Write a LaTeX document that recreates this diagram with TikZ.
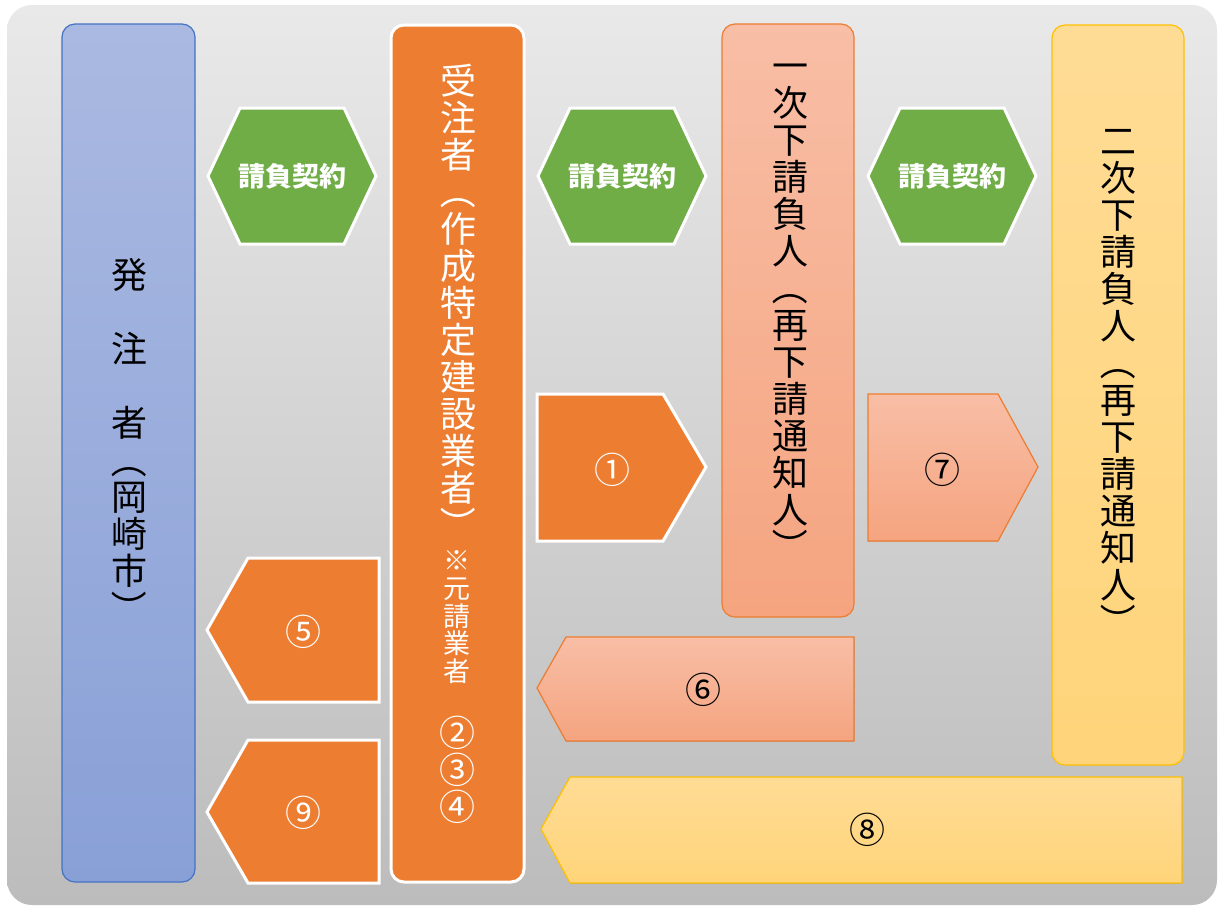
\documentclass[tikz,border=0pt]{standalone}
\usepackage{fontspec}
\usepackage{graphicx}
\newfontfamily\jp{Noto Sans CJK JP}
\definecolor{bgTop}{HTML}{E9E9E9}
\definecolor{bgBot}{HTML}{BCBCBC}
\definecolor{blueTop}{HTML}{AAB9E1}
\definecolor{blueBot}{HTML}{89A0D7}
\definecolor{blueLine}{HTML}{4472C4}
\definecolor{orng}{HTML}{ED7D31}
\definecolor{salTop}{HTML}{F8BEA6}
\definecolor{salBot}{HTML}{F5A47F}
\definecolor{yelTop}{HTML}{FFDC95}
\definecolor{yelBot}{HTML}{FFD47A}
\definecolor{yelLine}{HTML}{FFC000}
\definecolor{grn}{HTML}{70AD47}
% vertical parentheses and a strut for stacked text
\newcommand\vlp{\rotatebox[origin=c]{-90}{（}}
\newcommand\vrp{\rotatebox[origin=c]{-90}{）}}
\newcommand\vs{\rule[-0.12em]{0pt}{0.88em}}
\tikzset{
  box/.style={inner sep=0pt, rounded corners=6.5pt, line width=0.6pt},
  vtxt/.style={align=center, inner sep=0pt, font=\jp\fontsize{18}{18.5}\selectfont},
  vsmall/.style={align=center, inner sep=0pt, font=\jp\fontsize{13.5}{13.9}\selectfont},
  hexa/.style={fill=grn, draw=white, line width=1.5pt},
  hexlabel/.style={text=white, inner sep=0pt, font=\jp\bfseries\fontsize{13.5}{13.5}\selectfont},
  numlabel/.style={inner sep=0pt, font=\jp\fontsize{18}{18}\selectfont},
  arrowor/.style={fill=orng, draw=white, line width=1.5pt},
  arrowsal/.style={top color=salTop, bottom color=salBot, draw=orng, line width=0.6pt},
  arrowyel/.style={top color=yelTop, bottom color=yelBot, draw=yelLine, line width=0.6pt},
}
\begin{document}
\begin{tikzpicture}[x=0.5pt,y=-0.5pt]
	\useasboundingbox (0,0) rectangle (1218,906);
	\fill[white] (0,0) rectangle (1218,906);
	\shade[top color=bgTop, bottom color=bgBot, rounded corners=12.5pt] (7,5) rectangle (1217,905);
	% the four parties
	\node[box, draw=blueLine, top color=blueTop, bottom color=blueBot, minimum width=66.5pt, minimum height=429pt] (hatchu) at (128.5,453) {};
	\node[box, draw=white, line width=1.5pt, fill=orng, minimum width=66.5pt, minimum height=428.5pt] (juchu) at (457.5,453.5) {};
	\node[box, draw=orng, top color=salTop, bottom color=salBot, minimum width=66pt, minimum height=296.5pt] (ichiji) at (788,320.5) {};
	\node[box, draw=yelLine, top color=yelTop, bottom color=yelBot, minimum width=66pt, minimum height=370pt] (niji) at (1118,395) {};
	\node[vtxt] (hatchuT) at (129,442.5) {\vs{}発\\　\\注\\　\\者\\\vlp\\岡\\崎\\市\\\vrp\vs};
	\node[vtxt, text=white] (juchuT) at (458,303) {\vs{}受\\注\\者\\\vlp\\作\\成\\特\\定\\建\\設\\業\\者\\\vrp\vs};
	\node[vsmall, text=white] (motouke) at (457,617.5) {\vs{}※\\元\\請\\業\\者\vs};
	\node[vtxt, text=white] (juchuN) at (457,770) {\vs{}②\\③\\④\vs};
	\node[vtxt] (ichijiT) at (790,308) {\vs{}一\\次\\下\\請\\負\\人\\\vlp\\再\\下\\請\\通\\知\\人\\\vrp\vs};
	\node[vtxt] (nijiT) at (1118,383.5) {\vs{}二\\次\\下\\請\\負\\人\\\vlp\\再\\下\\請\\通\\知\\人\\\vrp\vs};
	% contracts
	\foreach \cx/\nm in {292/keiyakuA, 622/keiyakuB, 952/keiyakuC} {
		\draw[hexa] (\cx-84,176) -- (\cx-52,108) -- (\cx+52,108) -- (\cx+84,176) -- (\cx+52,244) -- (\cx-52,244) -- cycle;
		\node[hexlabel] (\nm) at (\cx,176) {請負契約};
	}
	% arrows to the right
	\filldraw[arrowor] (537,394) -- (663,394) -- (706,467) -- (663,541) -- (537,541) -- cycle;
	\node[numlabel, text=white] (n1) at (612,470) {①};
	\filldraw[arrowsal] (868,394) -- (998,394) -- (1038,467) -- (998,541) -- (868,541) -- cycle;
	\node[numlabel] (n7) at (942,470) {⑦};
	% arrows to the left
	\filldraw[arrowor] (207,630) -- (248,558) -- (379,558) -- (379,702) -- (248,702) -- cycle;
	\node[numlabel, text=white] (n5) at (303,632) {⑤};
	\filldraw[arrowor] (207,812) -- (248,740) -- (379,740) -- (379,883) -- (248,883) -- cycle;
	\node[numlabel, text=white] (n9) at (303,813) {⑨};
	\filldraw[arrowsal] (537,688) -- (566,637) -- (854,637) -- (854,741) -- (566,741) -- cycle;
	\node[numlabel] (n6) at (703,690) {⑥};
	\filldraw[arrowyel] (541,829) -- (570,777) -- (1182,777) -- (1182,883) -- (570,883) -- cycle;
	\node[numlabel] (n8) at (867,830) {⑧};
\end{tikzpicture}
\end{document}
